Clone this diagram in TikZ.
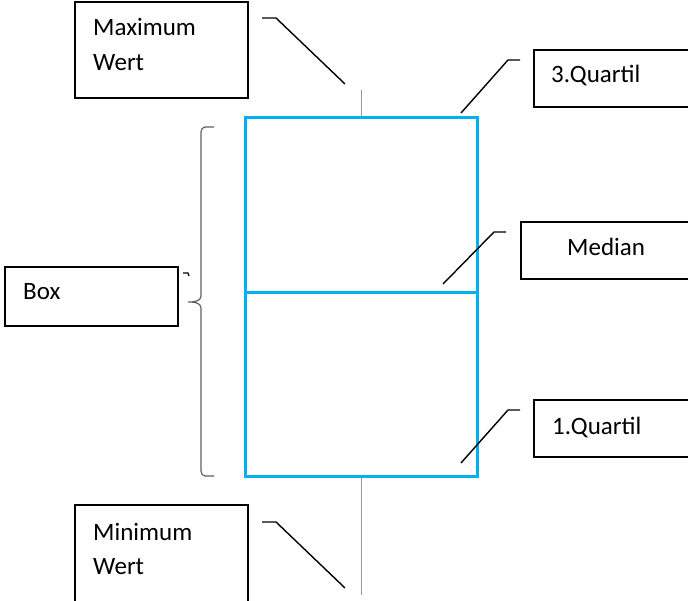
\documentclass[tikz,border=0pt]{standalone}
\usepackage{fontspec}
\setmainfont{Carlito}
\begin{document}
\begin{tikzpicture}[x=1pt,y=-1pt,
  labelbox/.style={draw=black, line width=1.8pt, inner sep=0pt, anchor=north west},
  txt/.style={inner sep=0pt, anchor=west, font=\fontsize{25}{30}\selectfont},
  leader/.style={draw=black, line width=1.4pt},
  whisker/.style={draw=gray!80, line width=1pt},
  boxline/.style={draw={rgb,255:red,0;green,176;blue,240}, line width=3pt}]
\useasboundingbox (0,0) rectangle (688,601);

% label frames
\node[labelbox, minimum width=173, minimum height=96] (maxbox) at (74,1) {};
\node[labelbox, minimum width=173, minimum height=99] (minbox) at (74,504) {};
\node[labelbox, minimum width=173, minimum height=59] (boxlbl) at (4,266) {};
\node[labelbox, minimum width=165, minimum height=57] (q3box) at (533,49) {};
\node[labelbox, minimum width=175, minimum height=57] (medbox) at (520,221) {};
\node[labelbox, minimum width=165, minimum height=57] (q1box) at (533,399) {};

% label texts
\node[txt] (maxt1) at (93,27) {Maximum};
\node[txt] (maxt2) at (93,63) {Wert};
\node[txt] (mint1) at (93,532) {Minimum};
\node[txt] (mint2) at (93,567) {Wert};
\node[txt] (boxt) at (23,292) {Box};
\node[txt] (q3t) at (551,75) {3.Quartil};
\node[txt] (medt) at (567,247) {Median};
\node[txt] (q1t) at (552,427) {1.Quartil};

% whiskers
\coordinate (wtop) at (361,90);
\coordinate (wbot) at (361,595);
\coordinate (boxtopmid) at (361,118);
\coordinate (boxbotmid) at (361,476);
\draw[whisker] (wtop) -- (boxtopmid);
\draw[whisker] (boxbotmid) -- (wbot);

% the box with median line
\coordinate (bxnw) at (245,118);
\coordinate (bxse) at (477,476);
\coordinate (medl) at (245,293);
\coordinate (medr) at (477,293);
\draw[boxline] (bxnw) rectangle (bxse);
\draw[boxline] (medl) -- (medr);

% leader lines
\coordinate (lmax0) at (262,18);
\coordinate (lmax1) at (276,18);
\coordinate (lmax2) at (345,84);
\draw[leader] (lmax0) -- (lmax1) -- (lmax2);
\coordinate (lmin0) at (262,522);
\coordinate (lmin1) at (276,522);
\coordinate (lmin2) at (345,588);
\draw[leader] (lmin0) -- (lmin1) -- (lmin2);
\coordinate (lq30) at (520,60);
\coordinate (lq31) at (508,60);
\coordinate (lq32) at (461,113);
\draw[leader] (lq30) -- (lq31) -- (lq32);
\coordinate (lmd0) at (506,232);
\coordinate (lmd1) at (494,232);
\coordinate (lmd2) at (443,284);
\draw[leader] (lmd0) -- (lmd1) -- (lmd2);
\coordinate (lq10) at (520,410);
\coordinate (lq11) at (508,410);
\coordinate (lq12) at (461,463);
\draw[leader] (lq10) -- (lq11) -- (lq12);

% curly brace spanning the box
\draw[gray!75!black, line width=1.2pt]
  (214,127) -- (205,127) to[out=180,in=90] (201,132)
  -- (201,296) to[out=-90,in=0] (188,302)
  to[out=0,in=90] (201,308)
  -- (201,471) to[out=-90,in=180] (205,476) -- (214,476);
% small tick beside the brace
\draw[black, line width=1.2pt] (183,273) -- (188,273) -- (189,276);
\end{tikzpicture}
\end{document}
